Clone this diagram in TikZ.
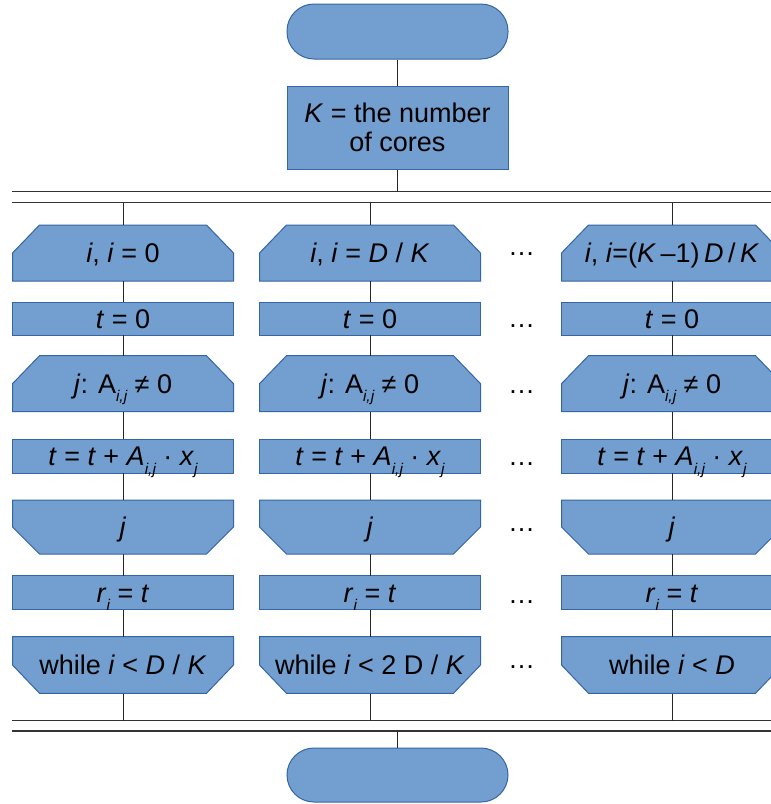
\documentclass[tikz,border=0pt]{standalone}
\usepackage{fontspec}
\setmainfont{Liberation Sans}
\usetikzlibrary{calc}
\definecolor{bfill}{HTML}{729FCF}
\definecolor{bline}{HTML}{3465A4}
\newcommand\lsub[1]{\raisebox{-8.5pt}{\fontsize{15.5}{15.5}\selectfont\itshape #1}}
% top-chamfered box: name, x, y, h, text
\newcommand\tbox[5]{%
  \path[blk] (#2-110.5,#3+#4/2) -- (#2-110.5,#3) -- (#2-83.5,#3-#4/2) -- (#2+83.5,#3-#4/2) -- (#2+110.5,#3) -- (#2+110.5,#3+#4/2) -- cycle;
  \node[cell,minimum height=#4pt] (#1) at (#2,#3) {#5};}
% bottom-chamfered box
\newcommand\bbox[5]{%
  \path[blk] (#2-110.5,#3-#4/2) -- (#2-110.5,#3) -- (#2-83.5,#3+#4/2) -- (#2+83.5,#3+#4/2) -- (#2+110.5,#3) -- (#2+110.5,#3-#4/2) -- cycle;
  \node[cell,minimum height=#4pt] (#1) at (#2,#3) {#5};}
% plain box
\newcommand\pbox[5]{%
  \path[blk] (#2-110.5,#3-#4/2) rectangle (#2+110.5,#3+#4/2);
  \node[cell,minimum height=#4pt] (#1) at (#2,#3) {#5};}
\begin{document}
\begin{tikzpicture}[x=1pt,y=-1pt,
  blk/.style={fill=bfill,draw=bline,line width=1pt,line join=miter},
  cell/.style={minimum width=221pt,inner sep=0pt,text height=19.3pt,text depth=0pt,font=\fontsize{27}{31}\selectfont},
  term/.style={fill=bfill,draw=bline,line width=1pt,minimum width=221pt,rounded corners=27pt,inner sep=0pt},
  conn/.style={draw=black!85,line width=1pt},
  bar/.style={draw=black!80,line width=1.5pt},
  dotsn/.style={anchor=base,inner sep=0pt,font=\fontsize{27}{31}\selectfont}]
\useasboundingbox (0,0) rectangle (771,804);
\clip (0,0) rectangle (771,804);
\fill[white] (0,0) rectangle (771,804);

\node[term,minimum height=55pt] (start) at (397.5,31.5) {};
\node[blk,minimum width=221pt,minimum height=83pt,inner sep=0pt,align=center,font=\fontsize{27}{28.7}\selectfont] (kbox) at (397.5,127.5) {\textit{K} = the number\\of cores};

\coordinate (L1) at (12,191.5);
\coordinate (L1e) at (780,191.5);
\coordinate (L2) at (12,202.5);
\coordinate (L2e) at (780,202.5);
\coordinate (L3) at (12,720.5);
\coordinate (L3e) at (780,720.5);
\coordinate (L4) at (12,731);
\coordinate (L4e) at (780,731);

\foreach \n/\x in {a/123,b/370,c/672}{
  \pbox{\n2}{\x}{318.5}{33}{\textit{t} = 0}
  \tbox{\n3}{\x}{383.7}{56}{\textit{j}: A\lsub{i,j} ≠ 0}
  \pbox{\n4}{\x}{456.2}{34}{\textit{t} = \textit{t} + \textit{A}\lsub{i,j} · \textit{x}\lsub{j}}
  \bbox{\n5}{\x}{527}{54}{\textit{j}}
  \pbox{\n6}{\x}{592.8}{34}{\textit{r}\lsub{i} = \textit{t}}
}
\tbox{a1}{123}{253}{56}{\textit{i}, \textit{i} = 0}
\tbox{b1}{370}{253}{56}{\textit{i}, \textit{i} = \textit{D} / \textit{K}}
\tbox{c1}{672}{253}{56}{\textit{i}, \textit{i}=(\textit{K}\,–1)\,\textit{D}\,/\,\textit{K}}
\bbox{a7}{123}{665}{56.6}{while \textit{i} < \textit{D} / \textit{K}}
\bbox{b7}{370}{665}{56.6}{while \textit{i} < 2 D / \textit{K}}
\bbox{c7}{672}{665}{56.6}{while \textit{i} < \textit{D}}

\node[term,minimum height=54pt] (end) at (397.5,775) {};

\foreach \y/\k in {254/1,326/2,391.7/3,464.3/4,530/5,601.7/6,667/7}{
  \node[dotsn] (dots\k) at (521.7,\y+1.5) {…};
}

\draw[bar] (L1) -- (L1e);
\draw[bar] (L2) -- (L2e);
\draw[bar] (L3) -- (L3e);
\draw[bar] (L4) -- (L4e);

\draw[conn] (start) -- (kbox);
\draw[conn] (kbox) -- (kbox |- L1);
\foreach \n in {a,b,c}{
  \draw[conn] (\n1 |- L2) -- (\n1);
  \draw[conn] (\n1) -- (\n2);
  \draw[conn] (\n2) -- (\n3);
  \draw[conn] (\n3) -- (\n4);
  \draw[conn] (\n4) -- (\n5);
  \draw[conn] (\n5) -- (\n6);
  \draw[conn] (\n6) -- (\n7);
  \draw[conn] (\n7) -- (\n7 |- L3);
}
\draw[conn] (end |- L4) -- (end);
\end{tikzpicture}
\end{document}
